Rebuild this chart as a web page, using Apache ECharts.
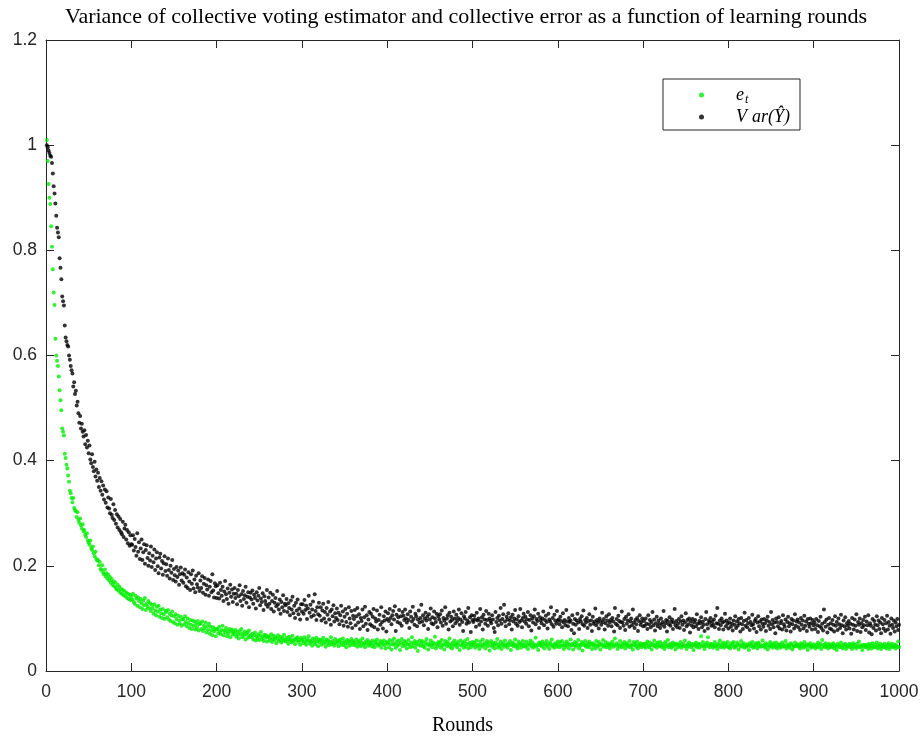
<!DOCTYPE html>
<html>
<head>
<meta charset="utf-8">
<script src="https://cdn.jsdelivr.net/npm/echarts@6/dist/echarts.min.js"></script>
<style>
html, body { margin: 0; padding: 0; background: #ffffff; }
#chart { width: 922px; height: 742px; }
</style>
</head>
<body>
<div id="chart"></div>
<script>
// Title and axis text
const chartTitle = 'Variance of collective voting estimator and collective error as a function of learning rounds';
const xAxisName = 'Rounds';
const seriesNames = ['e_t', 'Var(Ŷ)'];

// Collective error e_t per learning round (rounds 1..1000), in thousandths
const errorMilli = [
1010,970,926,900,888,846,807,764,720,696,632,600,590,580,
560,534,515,496,461,455,448,413,405,392,385,372,360,343,338,329,
321,329,310,306,304,293,302,287,282,290,277,271,279,266,268,259,255,262,248,244,240,248,234,230,237,224,218,227,213,210,
211,201,208,194,192,201,187,184,193,180,186,176,183,172,179,168,175,164,170,161,169,158,155,164,153,160,149,156,147,154,144,152,142,149,139,147,137,145,135,142,
136,147,131,128,143,138,124,140,133,121,137,129,118,134,125,139,116,128,122,133,
119,129,114,126,120,109,127,115,106,122,113,124,103,117,110,101,118,108,99,114,
112,102,116,98,109,95,106,113,93,104,91,108,99,88,105,96,90,103,86,98,
99,89,104,93,85,100,91,82,97,88,80,96,86,94,79,90,83,95,77,89,
91,80,94,76,86,81,92,73,85,78,90,71,84,77,68,83,75,80,66,79,
80,72,84,75,70,78,86,68,77,73,82,66,76,71,80,64,75,79,69,74,
71,78,65,74,69,62,76,70,80,64,72,67,75,60,70,73,63,77,66,68,
64,71,60,68,73,58,66,62,70,59,67,74,61,65,57,69,63,68,56,64,
66,58,63,70,55,61,67,59,64,53,62,68,57,60,65,54,63,58,69,60,
56,63,59,52,65,58,61,54,67,57,60,51,62,58,64,55,59,50,63,57,
60,53,64,56,50,61,57,66,52,58,55,48,62,54,59,51,63,56,47,60,
54,59,50,57,63,52,56,46,60,53,58,49,55,64,51,57,53,48,61,55,
52,58,47,55,60,50,54,62,49,56,53,45,59,52,57,48,55,61,50,54,
57,49,53,60,46,55,51,58,47,54,62,50,53,45,56,52,59,48,55,51,
54,47,58,51,45,56,52,60,48,53,50,57,44,54,51,58,49,43,55,52,
54,45,59,51,41,57,50,62,52,44,55,48,58,51,40,54,61,47,52,57,
48,55,43,51,59,50,45,54,64,47,52,57,44,51,55,38,50,58,48,54,
57,47,51,44,55,61,50,41,52,48,58,51,45,54,50,65,43,52,47,55,
50,54,44,59,48,51,41,57,52,47,55,50,62,45,51,43,54,48,58,50,
52,45,55,50,40,58,48,54,51,44,57,47,52,61,43,50,54,45,51,55,
49,54,44,51,58,47,50,42,56,50,46,60,49,53,43,51,57,47,54,39,
50,57,46,53,49,43,54,50,61,44,51,47,56,42,50,53,46,58,49,51,
44,53,49,57,40,50,54,47,51,60,46,50,43,56,49,53,44,50,57,47,
51,46,56,49,42,53,50,58,47,54,44,51,49,63,46,50,40,54,49,53,
47,56,50,43,53,49,57,46,51,42,54,49,60,47,50,44,53,50,46,56,
50,45,55,48,57,49,42,52,46,56,49,53,43,50,60,48,52,41,50,55,
46,53,49,59,43,50,48,55,39,52,49,57,46,50,53,45,56,49,52,42,
53,48,50,43,57,49,46,55,50,41,52,48,59,46,50,55,45,49,53,48,
43,52,49,56,46,50,62,48,53,42,50,46,57,49,45,52,48,55,43,50,
53,46,49,57,45,50,48,41,55,49,52,46,56,43,50,48,53,45,49,52,
47,52,44,51,56,48,45,54,49,41,52,48,58,47,51,44,54,49,47,55,
49,45,52,48,42,55,47,51,59,45,49,52,44,48,54,47,51,41,52,49,
45,51,48,55,44,49,52,47,58,48,42,51,47,54,49,45,52,48,40,51,
48,54,45,49,52,44,51,66,47,55,48,42,51,47,54,64,49,45,52,48,
51,44,48,55,47,49,42,52,48,58,45,51,47,54,44,49,52,47,55,45,
48,43,53,47,51,55,44,48,46,54,50,41,51,47,57,46,50,53,44,48,
46,51,48,40,53,47,50,55,44,48,46,53,50,43,54,47,51,46,48,58,
47,50,44,53,48,41,51,46,55,47,50,44,53,48,46,54,43,50,47,51,
44,48,54,46,50,47,57,43,51,47,48,44,53,50,41,48,46,54,47,50,
51,46,48,43,53,47,50,44,55,48,46,51,40,50,47,53,44,48,46,51,
47,43,50,46,54,45,49,52,42,59,47,50,45,53,46,49,43,52,47,45,
50,46,53,43,49,47,40,52,46,49,45,54,47,43,50,46,52,42,49,46,
47,52,45,49,42,53,46,50,47,43,52,46,56,45,49,47,40,50,46,49,
45,50,47,42,52,46,49,43,53,47,45,50,46,54,43,49,46,52,42,47,
49,45,52,46,43,50,47,53,42,49,46,52,45,47,50,43,49,46,56,45
];

// Variance of the collective voting estimator Var(Ŷ) per round (rounds 1..1000), in thousandths
const varianceMilli = [
1000,996,990,985,980,978,966,946,922,908,889,866,843,834,825,785,767,745,712,703,695,657,634,627,620,617,600,592,580,572,
566,541,549,527,533,505,512,490,472,485,461,470,455,446,458,431,449,425,438,414,429,402,395,412,388,380,398,370,383,362,
377,350,367,343,361,335,353,326,345,320,342,311,330,309,300,327,297,291,317,287,306,280,298,273,294,268,289,264,260,284,255,271,278,250,268,243,264,238,258,241,
240,258,229,251,236,219,262,227,245,213,233,250,211,226,241,204,230,239,215,200,
224,210,237,198,219,207,231,192,214,226,199,186,216,223,195,209,183,205,218,190,
203,181,214,192,176,200,187,211,173,194,182,170,198,179,191,164,184,197,172,186,
168,183,193,161,178,158,188,170,154,184,166,191,157,174,150,181,165,159,186,152,
172,158,180,149,166,177,145,163,155,174,143,160,171,150,184,153,140,167,161,139,
163,148,138,168,154,143,160,133,151,171,146,137,157,128,149,164,141,155,131,147,
158,139,147,127,154,142,163,133,146,124,152,137,144,160,130,141,150,121,140,149,
136,153,128,145,139,119,150,134,143,158,125,138,131,148,116,142,133,127,154,122,
140,128,149,118,133,145,113,130,139,123,152,127,117,136,109,131,121,144,114,128,
125,137,112,129,120,106,134,117,141,110,124,101,130,115,136,108,119,98,127,113,
127,109,135,116,124,99,119,143,111,126,103,117,132,106,146,114,97,121,108,130,
105,121,96,115,128,100,112,92,120,107,131,98,113,88,117,104,125,94,110,101,
119,97,111,89,106,124,95,113,86,103,118,93,109,84,121,100,91,114,82,105,
99,116,87,104,120,92,108,80,101,95,117,85,102,122,90,106,78,98,112,89,
109,86,103,118,83,100,94,115,79,97,107,88,121,93,81,104,96,113,75,99,
110,95,118,101,89,106,114,98,123,76,107,93,102,116,91,104,86,112,105,97,
117,100,92,108,97,82,113,103,94,122,99,88,109,104,85,98,115,92,101,126,
94,106,87,100,111,96,103,80,108,98,119,91,102,89,113,100,93,109,83,104,
98,108,92,115,86,101,96,121,90,100,106,79,111,94,103,97,85,113,100,91,
107,95,101,117,88,98,110,93,76,104,100,112,90,96,120,92,102,74,106,97,
93,105,98,84,111,96,100,88,118,94,102,79,107,98,90,114,97,86,109,100,
95,91,106,98,82,74,112,93,101,87,105,96,120,90,99,108,126,94,85,103,
98,110,89,96,102,79,107,94,100,116,90,98,86,104,93,118,96,83,101,109,
94,103,90,98,112,85,97,106,77,100,92,104,117,89,99,95,109,82,102,96,
91,100,113,87,97,105,93,81,109,98,94,121,89,101,84,107,96,90,114,95,
98,89,103,95,83,110,92,97,87,116,94,85,101,93,96,78,106,90,72,99,
88,96,109,92,80,99,94,104,89,115,86,97,92,101,82,95,108,88,96,76,
103,90,94,119,87,97,92,81,100,95,88,111,93,99,79,91,104,96,86,108,
92,97,85,101,94,75,120,90,99,87,105,95,82,93,113,92,86,99,78,103,
90,96,108,84,94,100,87,117,92,82,97,89,101,76,95,106,88,93,100,85,
95,86,100,90,80,106,89,97,83,93,112,87,98,77,91,103,85,96,90,82,
100,88,93,114,84,91,97,75,95,89,102,86,93,98,80,92,118,87,95,83,
90,99,82,94,104,88,96,78,92,110,85,97,89,100,73,94,87,99,83,92,
97,85,108,90,80,95,91,102,83,94,88,76,99,112,89,81,96,92,101,86,
94,88,98,83,105,91,120,90,80,96,87,100,92,79,94,109,85,96,90,81,
92,100,84,90,77,96,88,104,82,94,86,99,91,75,101,89,80,95,111,86,
97,83,91,101,78,93,87,107,89,81,95,99,74,92,104,85,94,79,98,90,
84,99,91,76,96,103,86,93,80,112,89,97,83,92,72,100,93,85,102,81,
91,95,79,106,89,84,98,77,93,103,85,91,75,99,89,96,81,108,86,94,
98,83,92,78,101,88,96,81,105,86,94,76,99,90,84,100,91,79,97,87,
92,80,99,87,74,95,85,103,82,90,77,117,93,84,98,73,88,101,81,91,
79,97,88,75,104,86,93,78,100,89,82,107,87,72,96,85,102,79,91,86,
95,81,90,71,101,88,79,98,86,108,76,93,88,100,74,91,83,97,87,103,
78,94,87,106,73,91,86,70,99,82,95,88,77,104,87,96,80,92,72,101,
89,81,97,76,91,105,79,93,86,71,100,88,82,96,75,92,85,99,78,88
];

// Each value belongs to its round number (1, 2, 3, ...)
const toPoints = (arr) => arr.map((v, i) => [i + 1, v / 1000]);

const axisColor = '#262626';
const labelFont = { fontFamily: 'Liberation Sans, Arial, sans-serif', fontSize: 17.5, color: axisColor };
const serif = 'Liberation Serif, Times New Roman, serif';

function frameAxis(extra) {
  return Object.assign({
    type: 'value',
    axisLine: { show: true, onZero: false, lineStyle: { color: axisColor, width: 1 } },
    axisTick: { show: true, inside: true, length: 8, lineStyle: { color: axisColor, width: 1 } },
    splitLine: { show: false },
    minorTick: { show: false }
  }, extra);
}

const chart = echarts.init(document.getElementById('chart'), null, { renderer: 'canvas' });

chart.setOption({
  animation: false,
  backgroundColor: '#ffffff',
  title: {
    text: chartTitle,
    left: 461,
    textAlign: 'center',
    top: 1,
    textStyle: { fontFamily: serif, fontSize: 22, fontWeight: 'normal', color: '#000000' }
  },
  grid: { left: 46, right: 23, top: 40, bottom: 71, containLabel: false },
  legend: {
    orient: 'vertical',
    left: 663,
    top: 79,
    padding: [5, 10, 4, 36],
    itemGap: 2,
    itemWidth: 5,
    itemHeight: 5,
    icon: 'circle',
    backgroundColor: '#ffffff',
    borderColor: axisColor,
    borderWidth: 1,
    selectedMode: false,
    data: seriesNames,
    formatter: function (name) {
      return name === seriesNames[0] ? '{gap|}{it|e}{sub|t}' : '{gap|}{v|V}{it|ar(Ŷ)}';
    },
    textStyle: {
      color: '#000000',
      lineHeight: 18,
      rich: {
        gap: { width: 27, lineHeight: 18 },
        it: { fontFamily: serif, fontStyle: 'italic', fontSize: 18, lineHeight: 18, color: '#000' },
        v: { fontFamily: serif, fontStyle: 'italic', fontSize: 18, lineHeight: 18, color: '#000', padding: [0, 5, 0, 0] },
        sub: { fontFamily: serif, fontStyle: 'italic', fontSize: 12, lineHeight: 18, color: '#000', padding: [10, 0, 0, 1] }
      }
    }
  },
  xAxis: [
    frameAxis({
      position: 'bottom', min: 0, max: 1000, interval: 100,
      axisLabel: Object.assign({ margin: 12, formatter: (v) => String(v) }, labelFont),
      name: xAxisName, nameLocation: 'middle', nameGap: 45,
      nameTextStyle: { fontFamily: serif, fontSize: 20, color: '#000000', padding: [0, 20, 0, 0] }
    }),
    frameAxis({ position: 'top', min: 0, max: 1000, interval: 100, axisLabel: { show: false } })
  ],
  yAxis: [
    frameAxis({
      position: 'left', min: 0, max: 1.2, interval: 0.2,
      axisLabel: Object.assign({ margin: 9 }, labelFont)
    }),
    frameAxis({ position: 'right', min: 0, max: 1.2, interval: 0.2, axisLabel: { show: false } })
  ],
  series: [
    {
      name: seriesNames[0],
      type: 'scatter',
      xAxisIndex: 0, yAxisIndex: 0,
      symbol: 'circle',
      symbolSize: 4,
      itemStyle: { color: '#00ee00' },
      emphasis: { disabled: true },
      data: toPoints(errorMilli)
    },
    {
      name: seriesNames[1],
      type: 'scatter',
      xAxisIndex: 0, yAxisIndex: 0,
      symbol: 'circle',
      symbolSize: 4,
      itemStyle: { color: '#000000' },
      emphasis: { disabled: true },
      data: toPoints(varianceMilli)
    }
  ]
});
</script>
</body>
</html>
